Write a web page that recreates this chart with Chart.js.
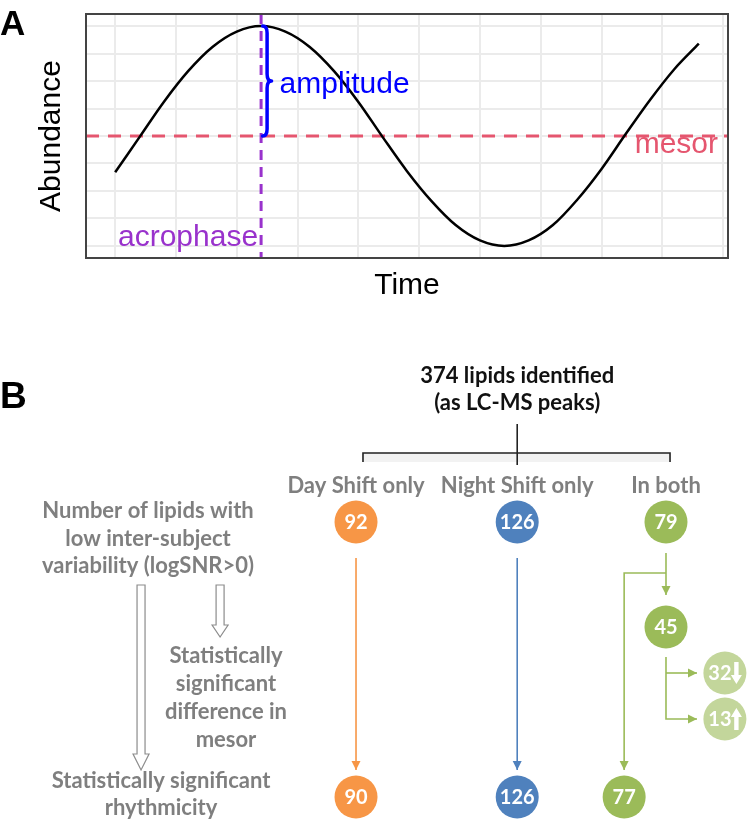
<!DOCTYPE html>
<html>
<head>
<meta charset="utf-8">
<script src="https://cdn.jsdelivr.net/npm/chart.js@4.4.0/dist/chart.umd.min.js"></script>
<style>
  body { margin: 0; background: #fff; width: 750px; height: 821px; position: relative; overflow: hidden;
         font-family: "Liberation Sans", Arial, sans-serif; }
  #cA { position: absolute; left: 0; top: 0; }
  #cB { position: absolute; left: 0; top: 310px; }
  .tag { position: absolute; left: 0; font-weight: bold; line-height: 1; color: #000; }
</style>
</head>
<body>
<canvas id="cA" width="750" height="310"></canvas>
<canvas id="cB" width="750" height="511"></canvas>
<div class="tag" style="top:5px;font-size:35px">A</div>
<div class="tag" style="top:377px;font-size:37px">B</div>
<script>
// ---- panel A: cosinor curve ----
const timeH = [0, 1, 2, 3, 4, 5, 6, 7, 8, 9, 10, 11, 12, 13, 14, 15, 16, 17, 18, 19, 20, 21, 22, 23, 24];
const abundance = [1.67, 1.99, 2.31, 2.59, 2.81, 2.95, 3.00, 2.95, 2.81, 2.59, 2.31, 1.99, 1.68, 1.41, 1.19, 1.05, 1.00, 1.05, 1.19, 1.42, 1.70, 2.02, 2.33, 2.61, 2.84];
const xGrid = [0, 2.5, 5, 7.5, 10, 12.5, 15, 17.5, 20, 22.5, 25];
const yGrid = [1, 1.25, 1.5, 1.75, 2, 2.25, 2.5, 2.75, 3];
const mesor = 2;
const amplitude = 1;
const acrophase = 6;

// ---- panel B: lipid counts ----
const groups = ['Day Shift only', 'Night Shift only', 'In both'];
const lowVarCounts = [92, 126, 79];
const rhythmicCounts = [90, 126, 77];
const mesorDiffBoth = 45;
const mesorDirCounts = [32, 13];
const mesorDirs = ['down', 'up'];
const totalLine = ['374 lipids identified', '(as LC-MS peaks)'];
const lowVarText = ['Number of lipids with', 'low inter-subject', 'variability (logSNR>0)'];
const mesorText = ['Statistically', 'significant', 'difference in', 'mesor'];
const rhythmText = ['Statistically significant', 'rhythmicity'];

const groupColors = ['#F79646', '#4F81BD', '#9BBB59'];
const lightGreen = '#C3D69B';
const grayText = '#7F7F7F';
const mesorColor = '#E5566F';
const acroColor = '#9932CC';
const ampColor = '#0000FF';

Chart.defaults.font.family = "'Liberation Sans', Arial, Helvetica, sans-serif";
Chart.defaults.color = '#000';

const cosinorMarks = {
  id: 'cosinorMarks',
  beforeDatasetsDraw(chart) {
    const { ctx, chartArea: a, scales: { x, y } } = chart;
    const xa = x.getPixelForValue(acrophase), ym = y.getPixelForValue(mesor);
    ctx.save();
    ctx.lineWidth = 3;
    ctx.setLineDash([13, 9]);
    ctx.strokeStyle = mesorColor;
    ctx.beginPath(); ctx.moveTo(a.left, ym); ctx.lineTo(a.right, ym); ctx.stroke();
    ctx.setLineDash([10, 7]);
    ctx.strokeStyle = acroColor;
    ctx.beginPath(); ctx.moveTo(xa, a.top); ctx.lineTo(xa, a.bottom); ctx.stroke();
    ctx.restore();
  },
  afterDatasetsDraw(chart) {
    const { ctx, chartArea: a, scales: { x, y } } = chart;
    const xa = x.getPixelForValue(acrophase);
    const yTop = y.getPixelForValue(mesor + amplitude), yBot = y.getPixelForValue(mesor);
    const yMid = (yTop + yBot) / 2;
    // brace
    const xs = xa + 1.5, w = 4.5;
    ctx.save();
    ctx.strokeStyle = ampColor; ctx.lineWidth = 3.5; ctx.lineJoin = 'round'; ctx.lineCap = 'round';
    ctx.beginPath();
    ctx.moveTo(xs, yTop);
    ctx.quadraticCurveTo(xs + w, yTop, xs + w, yTop + 7);
    ctx.lineTo(xs + w, yMid - 7);
    ctx.quadraticCurveTo(xs + w, yMid, xs + 2 * w, yMid);
    ctx.quadraticCurveTo(xs + w, yMid, xs + w, yMid + 7);
    ctx.lineTo(xs + w, yBot - 7);
    ctx.quadraticCurveTo(xs + w, yBot, xs, yBot);
    ctx.stroke();
    // labels
    ctx.font = "30px 'Liberation Sans', Arial, sans-serif";
    ctx.textBaseline = 'alphabetic';
    ctx.fillStyle = ampColor; ctx.textAlign = 'left';
    ctx.fillText('amplitude', xs + 2 * w + 8, yMid + 12);
    ctx.fillStyle = mesorColor; ctx.textAlign = 'right';
    ctx.fillText('mesor', a.right - 10, yBot + 17);
    ctx.fillStyle = acroColor; ctx.textAlign = 'right';
    ctx.fillText('acrophase', xa - 3, a.bottom - 12);
    ctx.restore();
  },
  afterDraw(chart) {
    const { ctx, chartArea: a } = chart;
    ctx.save();
    ctx.strokeStyle = '#444'; ctx.lineWidth = 2;
    ctx.strokeRect(a.left, a.top, a.right - a.left, a.bottom - a.top);
    ctx.restore();
  }
};

new Chart(document.getElementById('cA'), {
  type: 'line',
  data: {
    datasets: [{
      data: timeH.map((t, i) => ({ x: t, y: abundance[i] })),
      borderColor: '#000', borderWidth: 2.5, pointRadius: 0,
      cubicInterpolationMode: 'monotone', fill: false
    }]
  },
  options: {
    responsive: false, animation: false, events: [],
    layout: { padding: { top: 14, right: 22, left: 0, bottom: 0 } },
    plugins: { legend: { display: false }, tooltip: { enabled: false } },
    scales: {
      x: {
        type: 'linear', min: -1.2, max: 25.2,
        afterBuildTicks: s => { s.ticks = xGrid.map(v => ({ value: v })); },
        afterFit: s => { s.height = 52; },
        ticks: { display: false }, border: { display: false },
        grid: { color: '#EBEBEB', lineWidth: 2, drawTicks: false },
        title: { display: true, text: 'Time', font: { size: 30 }, padding: { top: 0, bottom: 6 } }
      },
      y: {
        type: 'linear', min: 0.89, max: 3.11,
        afterBuildTicks: s => { s.ticks = yGrid.map(v => ({ value: v })); },
        afterFit: s => { s.width = 86; },
        ticks: { display: false }, border: { display: false },
        grid: { color: '#EBEBEB', lineWidth: 2, drawTicks: false },
        title: { display: true, text: 'Abundance', font: { size: 30 }, padding: { top: 34, bottom: 0 } }
      }
    }
  },
  plugins: [cosinorMarks]
});

// ---- panel B layout (logical units: x in columns, y in tiers) ----
const colX = [0, 1.04, 2];
const bothRhythmX = 1.73, dirX = 2.38;
const rowLow = 2.12, rowMesor = 3.17, rowDir = [3.63, 4.09], rowRhythm = 4.87;

const nodes = [];
lowVarCounts.forEach((v, i) => nodes.push({ x: colX[i], y: rowLow, v, c: groupColors[i] }));
rhythmicCounts.forEach((v, i) => nodes.push({ x: i === 2 ? bothRhythmX : colX[i], y: rowRhythm, v, c: groupColors[i] }));
nodes.push({ x: colX[2], y: rowMesor, v: mesorDiffBoth, c: groupColors[2] });
mesorDirCounts.forEach((v, i) => nodes.push({ x: dirX, y: rowDir[i], v, c: lightGreen, dir: mesorDirs[i] }));

function head(ctx, x, y, dx, dy, len, hw) {
  ctx.beginPath();
  ctx.moveTo(x, y);
  ctx.lineTo(x - dx * len - dy * hw, y - dy * len + dx * hw);
  ctx.lineTo(x - dx * len + dy * hw, y - dy * len - dx * hw);
  ctx.closePath();
  ctx.fill();
}
function path(ctx, pts, color, arrow) {
  ctx.strokeStyle = color; ctx.fillStyle = color; ctx.lineWidth = 1.6;
  ctx.beginPath();
  pts.forEach((p, i) => i ? ctx.lineTo(p[0], p[1]) : ctx.moveTo(p[0], p[1]));
  ctx.stroke();
  if (arrow) {
    const [x1, y1] = pts[pts.length - 1], [x0, y0] = pts[pts.length - 2];
    const L = Math.hypot(x1 - x0, y1 - y0);
    head(ctx, x1, y1, (x1 - x0) / L, (y1 - y0) / L, 9, 4.5);
  }
}
function hollow(ctx, x, y0, y1, hl) {
  const sw = 4, hw = 8;
  ctx.beginPath();
  ctx.moveTo(x - sw, y0); ctx.lineTo(x + sw, y0); ctx.lineTo(x + sw, y1 - hl);
  ctx.lineTo(x + hw, y1 - hl); ctx.lineTo(x, y1); ctx.lineTo(x - hw, y1 - hl);
  ctx.lineTo(x - sw, y1 - hl); ctx.closePath();
  ctx.fillStyle = '#fff'; ctx.fill();
  ctx.strokeStyle = '#8C8C8C'; ctx.lineWidth = 1.2; ctx.stroke();
}
function dirArrow(ctx, cx, cy, dir) {
  const h = 22, sw = 2.2, hw = 5.5, hl = 9;
  const s = dir === 'up' ? -1 : 1;
  const tip = cy + s * h / 2, base = cy - s * h / 2;
  ctx.beginPath();
  ctx.moveTo(cx - sw, base); ctx.lineTo(cx + sw, base);
  ctx.lineTo(cx + sw, tip - s * hl); ctx.lineTo(cx + hw, tip - s * hl);
  ctx.lineTo(cx, tip); ctx.lineTo(cx - hw, tip - s * hl);
  ctx.lineTo(cx - sw, tip - s * hl); ctx.closePath();
  ctx.fill();
}

const flowMarks = {
  id: 'flowMarks',
  beforeDatasetsDraw(chart) {
    const { ctx, scales: { x, y } } = chart;
    const X = u => x.getPixelForValue(u), Y = v => y.getPixelForValue(v);
    ctx.save();
    // bracket from total
    ctx.fillStyle = '#F2F2F2';
    ctx.fillRect(X(0.045), Y(1.43), X(2.026) - X(0.045), Y(1.52) - Y(1.43));
    path(ctx, [[X(0.045), Y(1.52)], [X(0.045), Y(1.43)], [X(2.026), Y(1.43)], [X(2.026), Y(1.52)]], '#222', false);
    path(ctx, [[X(colX[1]), Y(1.14)], [X(colX[1]), Y(1.55)]], '#222', false);
    // low-variability -> rhythmic
    path(ctx, [[X(colX[0]), Y(2.48)], [X(colX[0]), Y(4.60)]], groupColors[0], true);
    path(ctx, [[X(colX[1]), Y(2.48)], [X(colX[1]), Y(4.60)]], groupColors[1], true);
    path(ctx, [[X(colX[2]), Y(2.43)], [X(colX[2]), Y(2.85)]], groupColors[2], true);
    path(ctx, [[X(colX[2]), Y(2.63)], [X(bothRhythmX), Y(2.63)], [X(bothRhythmX), Y(4.60)]], groupColors[2], true);
    // mesor split
    path(ctx, [[X(colX[2]), Y(3.47)], [X(colX[2]), Y(rowDir[1])], [X(2.2), Y(rowDir[1])]], groupColors[2], true);
    path(ctx, [[X(colX[2]), Y(rowDir[0])], [X(2.2), Y(rowDir[0])]], groupColors[2], true);
    // hollow step arrows
    hollow(ctx, X(-1.387), Y(2.75), Y(4.60), 16);
    hollow(ctx, X(-0.877), Y(2.75), Y(3.27), 12);
    // texts
    ctx.textAlign = 'center'; ctx.textBaseline = 'alphabetic';
    ctx.font = "bold 22px Lato, 'Open Sans', sans-serif";
    ctx.fillStyle = '#111';
    totalLine.forEach((t, i) => ctx.fillText(t, X(colX[1]), Y(0.73 + i * 0.27)));
    ctx.fillStyle = grayText;
    groups.forEach((g, i) => ctx.fillText(g, X(colX[i]), Y(1.83)));
    lowVarText.forEach((t, i) => ctx.fillText(t, X(-1.342), Y(2.08 + i * 0.275)));
    mesorText.forEach((t, i) => ctx.fillText(t, X(-0.839), Y(3.53 + i * 0.28)));
    rhythmText.forEach((t, i) => ctx.fillText(t, X(-1.258), Y(4.78 + i * 0.27)));
    ctx.restore();
  },
  afterDatasetsDraw(chart) {
    const { ctx } = chart;
    const pts = chart.getDatasetMeta(0).data;
    ctx.save();
    ctx.fillStyle = '#fff';
    ctx.font = "bold 20px Lato, 'Open Sans', sans-serif";
    ctx.textBaseline = 'middle';
    ctx.textAlign = 'center';
    pts.forEach((el, i) => {
      const n = nodes[i];
      if (n.dir) {
        ctx.fillText(String(n.v), el.x - 5, el.y + 1);
        dirArrow(ctx, el.x + 11.5, el.y, n.dir);
      } else {
        ctx.fillText(String(n.v), el.x, el.y + 1);
      }
    });
    ctx.restore();
  }
};

new Chart(document.getElementById('cB'), {
  type: 'scatter',
  data: {
    datasets: [{
      data: nodes,
      backgroundColor: nodes.map(n => n.c),
      borderWidth: 0, pointRadius: 21.5, pointHoverRadius: 21.5, pointStyle: 'circle'
    }]
  },
  options: {
    responsive: false, animation: false, events: [],
    layout: { padding: 0, autoPadding: false },
    plugins: { legend: { display: false }, tooltip: { enabled: false } },
    scales: {
      x: { type: 'linear', display: false, min: -2.297, max: 2.542 },
      y: { type: 'linear', display: false, reverse: true, min: 0, max: 5.11 }
    }
  },
  plugins: [flowMarks]
});
</script>
</body>
</html>
